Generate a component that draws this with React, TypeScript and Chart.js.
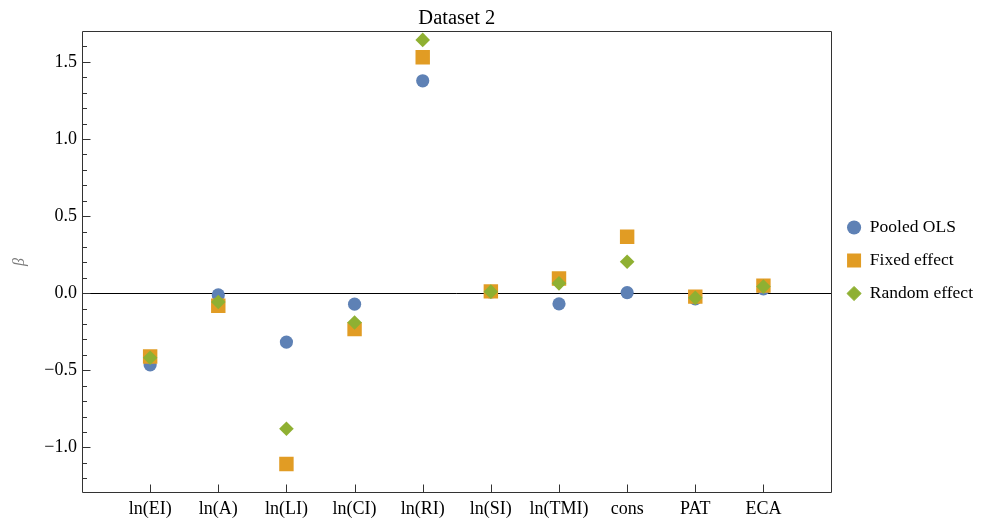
import React, { useEffect, useRef } from 'react';
import { Chart, registerables } from 'chart.js';

Chart.register(...registerables);

// ---- data ----
const categories = ['ln(EI)', 'ln(A)', 'ln(LI)', 'ln(CI)', 'ln(RI)', 'ln(SI)', 'ln(TMI)', 'cons', 'PAT', 'ECA'];
const seriesNames = ['Pooled OLS', 'Fixed effect', 'Random effect'];
const pooledOLS = [-0.464, -0.011, -0.317, -0.071, 1.377, 0.008, -0.069, 0.004, -0.037, 0.028];
const fixedEffect = [-0.41, -0.081, -1.107, -0.233, 1.53, 0.012, 0.095, 0.366, -0.022, 0.049];
const randomEffect = [-0.418, -0.057, -0.879, -0.19, 1.642, 0.01, 0.064, 0.204, -0.03, 0.043];
const yTickValues = [-1.2, -1.1, -1.0, -0.9, -0.8, -0.7, -0.6, -0.5, -0.4, -0.3, -0.2, -0.1, 0, 0.1, 0.2, 0.3, 0.4, 0.5, 0.6, 0.7, 0.8, 0.9, 1.0, 1.1, 1.2, 1.3, 1.4, 1.5, 1.6];
const yLabelTicks = [-1.0, -0.5, 0, 0.5, 1.0, 1.5];
const yRange = { min: -1.295, max: 1.699 };
const titleText = 'Dataset 2';
const yTitle = 'β';

// ---- style ----
const colors = ['#5E81B5', '#E19C24', '#8FB032'];
const pointStyles = ['circle', 'rect', 'rectRot'];
const pointRadii = [6.6, 10.2, 7.3];
const legendStroke = [0, 4, 1];
const FONT = 'Liberation Serif';
const FRAME = '#333333';

const near = (a: number, b: number) => Math.abs(a - b) < 1e-6;

const frameAndTicks = {
  id: 'frameAndTicks',
  afterDatasetsDraw(chart: any) {
    const { ctx, chartArea, scales } = chart;
    const l = Math.round(chartArea.left) + 0.5;
    const r = Math.round(chartArea.right) - 0.5;
    const t = Math.round(chartArea.top) + 0.5;
    const b = Math.round(chartArea.bottom) - 0.5;
    ctx.save();
    ctx.strokeStyle = FRAME;
    ctx.lineWidth = 1;
    ctx.beginPath();
    ctx.rect(l, t, r - l, b - t);
    ctx.stroke();
    ctx.beginPath();
    for (const tk of scales.y.ticks) {
      const y = Math.round(scales.y.getPixelForValue(tk.value)) + 0.5;
      const major = yLabelTicks.some((v) => near(v, tk.value));
      ctx.moveTo(l, y);
      ctx.lineTo(l + (major ? 8 : 4.5), y);
    }
    for (const tk of scales.x.ticks) {
      const x = Math.round(scales.x.getPixelForValue(tk.value)) + 0.5;
      ctx.moveTo(x, b);
      ctx.lineTo(x, b - 8);
    }
    ctx.stroke();
    ctx.restore();
  },
};

export default function App() {
  const ref = useRef<HTMLCanvasElement>(null);

  useEffect(() => {
    const series = [pooledOLS, fixedEffect, randomEffect];
    const datasets = series.map((vals, s) => ({
      label: seriesNames[s],
      data: vals.map((v, i) => ({ x: i + 1, y: v })),
      backgroundColor: colors[s],
      borderColor: colors[s],
      pointStyle: pointStyles[s],
      pointRadius: pointRadii[s],
      pointHoverRadius: pointRadii[s],
      pointBorderWidth: 0,
      order: 3 - s,
    }));

    const chart = new Chart(ref.current!, {
      type: 'scatter',
      data: { datasets },
      plugins: [frameAndTicks],
      options: {
        animation: false,
        responsive: false,
        events: [],
        layout: { padding: { left: 0, right: 5, top: 0, bottom: 0 } },
        plugins: {
          tooltip: { enabled: false },
          title: {
            display: true,
            text: titleText,
            fullSize: false,
            color: '#000',
            font: { family: FONT, size: 20.5, weight: 'normal' },
            padding: { top: 6.5, bottom: 0 },
          },
          legend: {
            position: 'right',
            align: 'center',
            labels: {
              usePointStyle: true,
              boxWidth: 14,
              boxHeight: 10,
              padding: 15.5,
              color: '#000',
              font: { family: FONT, size: 17.5 },
              sort: (a: any, b: any) => a.datasetIndex - b.datasetIndex,
              generateLabels: (c: any) => {
                const items = (Chart.defaults as any).plugins.legend.labels.generateLabels(c);
                items.forEach((it: any) => {
                  it.lineWidth = legendStroke[it.datasetIndex];
                  it.strokeStyle = colors[it.datasetIndex];
                  it.fillStyle = colors[it.datasetIndex];
                  it.pointStyle = pointStyles[it.datasetIndex];
                });
                return items;
              },
            },
          },
        },
        scales: {
          x: {
            type: 'linear',
            min: 0,
            max: categories.length + 1,
            afterBuildTicks: (scale: any) => {
              scale.ticks = categories.map((_, i) => ({ value: i + 1 }));
            },
            afterFit: (scale: any) => {
              scale.height = 28;
            },
            grid: { display: false, drawTicks: false },
            border: { display: false },
            ticks: {
              autoSkip: false,
              maxRotation: 0,
              padding: 5,
              color: '#000',
              font: { family: FONT, size: 18 },
              callback: (v: any) => categories[Math.round(Number(v)) - 1] ?? '',
            },
          },
          y: {
            type: 'linear',
            min: yRange.min,
            max: yRange.max,
            afterBuildTicks: (scale: any) => {
              scale.ticks = yTickValues.map((v) => ({ value: v }));
            },
            afterFit: (scale: any) => {
              scale.width = 82;
            },
            grid: {
              drawTicks: false,
              lineWidth: 1,
              color: (ctx: any) => (ctx.tick && near(ctx.tick.value, 0) ? '#000000' : 'rgba(0,0,0,0)'),
            },
            border: { display: false },
            title: {
              display: true,
              text: yTitle,
              color: '#7a7a7a',
              font: { family: FONT, size: 16, style: 'italic' },
              padding: { top: 10.4, bottom: 0 },
            },
            ticks: {
              autoSkip: false,
              padding: 5,
              color: '#000',
              font: { family: FONT, size: 18 },
              callback: (v: any) => {
                const n = Number(v);
                if (!yLabelTicks.some((t) => near(t, n))) return '';
                const s = Math.abs(n).toFixed(1);
                return n < -1e-9 ? '\u2212' + s : s;
              },
            },
          },
        },
      } as any,
    });
    return () => chart.destroy();
  }, []);

  return (
    <div style={{ position: 'absolute', left: 0, top: 0, width: 988, height: 521, background: '#fff' }}>
      <canvas ref={ref} width={988} height={521} />
    </div>
  );
}
